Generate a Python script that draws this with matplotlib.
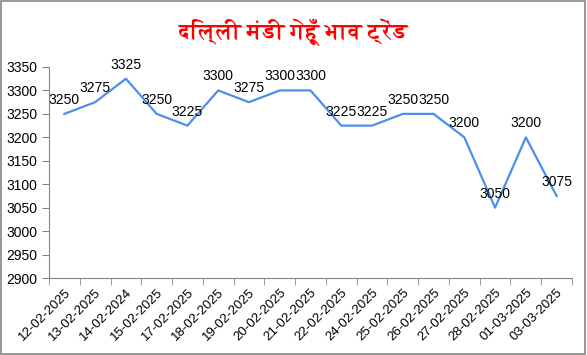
import matplotlib
matplotlib.use("Agg")
import matplotlib.pyplot as plt
from matplotlib import font_manager
import numpy as np

dates = ["12-02-2025", "13-02-2025", "14-02-2024", "15-02-2025", "17-02-2025",
         "18-02-2025", "19-02-2025", "20-02-2025", "21-02-2025", "22-02-2025",
         "24-02-2025", "25-02-2025", "26-02-2025", "27-02-2025", "28-02-2025",
         "01-03-2025", "03-03-2025"]
prices = [3250, 3275, 3325, 3250, 3225, 3300, 3275, 3300, 3300, 3225,
          3225, 3250, 3250, 3200, 3050, 3200, 3075]
title = "दिल्ली मंडी गेहूँ भाव ट्रेंड"


def find_devanagari_font():
    try:
        from fontTools.ttLib import TTFont
    except ImportError:
        return None
    found = []
    for f in font_manager.fontManager.ttflist:
        try:
            tt = TTFont(f.fname, fontNumber=0, lazy=True)
            cmap = tt.getBestCmap()
            if cmap and 0x0926 in cmap and 0x093F in cmap:
                found.append(f)
        except Exception:
            continue
    if not found:
        return None
    # prefer a bold face if there is one
    bold = [f for f in found if f.weight in ("bold", 700, "heavy")]
    return (bold or found)[0].name


deva = find_devanagari_font()
title_family = [deva, "DejaVu Sans"] if deva else ["DejaVu Sans"]

plt.rcParams['font.family'] = ['Liberation Sans', 'DejaVu Sans']

fig = plt.figure(figsize=(5.87, 3.55), dpi=100)
ax = fig.add_axes([49 / 587, 1 - 278 / 355, 523 / 587, 211 / 355])

x = np.arange(len(dates))
ax.plot(x, prices, color="#4d8ef0", lw=1.6)
for xi, v in zip(x, prices):
    ax.annotate(str(v), (xi, v), xytext=(0, 5), textcoords="offset points",
                ha="center", va="bottom", fontsize=10)

ax.set_xlim(-0.5, len(dates) - 0.5)
ax.set_ylim(2900, 3350)
ax.set_yticks(np.arange(2900, 3351, 50))
ax.set_xticks(x)
ax.set_xticklabels(dates, rotation=45, ha="right", rotation_mode="anchor", fontsize=9.5)
ax.set_xticks(np.arange(-0.5, len(dates)), minor=True)
ax.tick_params(axis="x", which="major", length=0, pad=6)
ax.tick_params(axis="x", which="minor", length=5, color="#868686")
ax.tick_params(axis="y", length=5, color="#868686", labelsize=10)

for s in ["top", "right"]:
    ax.spines[s].set_visible(False)
for s in ["left", "bottom"]:
    ax.spines[s].set_color("#868686")

fig.text(0.5, 1 - 32 / 355, title, ha="center", va="center", color="red",
         fontsize=16, fontweight="bold", family=title_family)

fig.patches.append(plt.Rectangle((0.002, 0.003), 0.995, 0.994, transform=fig.transFigure,
                                 fill=False, edgecolor="#868686", lw=1.2))

fig.savefig("out.png", dpi=100)
